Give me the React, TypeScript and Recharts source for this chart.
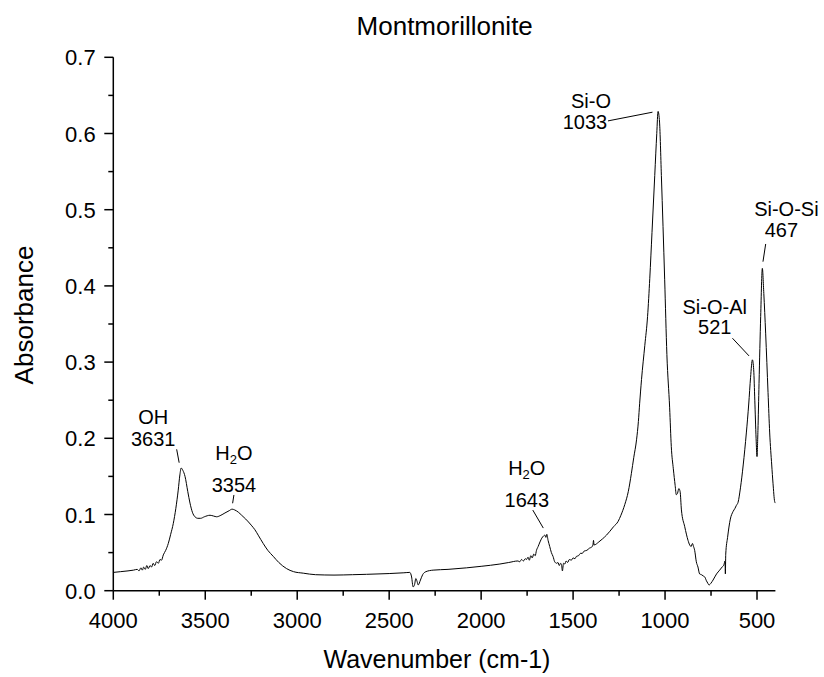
import { LineChart, Line, XAxis, YAxis, ReferenceDot } from 'recharts'

// spectrum, high wavenumber first
const wavenumber = [
  4000, 3960, 3920, 3890, 3870, 3860, 3850, 3842, 3835, 3826, 3818, 3810, 3800, 3792, 3783, 3775,
  3765, 3755, 3746, 3738, 3728, 3715, 3701, 3688, 3674, 3660, 3647, 3638, 3631, 3622, 3610, 3595,
  3583, 3570, 3556, 3540, 3525, 3505, 3474, 3455, 3438, 3415, 3393, 3370, 3354, 3340, 3320, 3302,
  3280, 3250, 3230, 3210, 3185, 3160, 3130, 3100, 3058, 3020, 2967, 2900, 2800, 2700, 2623, 2500,
  2420, 2388, 2378, 2370, 2362, 2355, 2348, 2342, 2330, 2318, 2300, 2261, 2180, 2079, 2000, 1898,
  1850, 1800, 1790, 1780, 1770, 1760, 1753, 1745, 1738, 1730, 1722, 1714, 1706, 1699, 1690, 1680,
  1670, 1660, 1654, 1648, 1643, 1636, 1627, 1618, 1609, 1600, 1590, 1582, 1575, 1568, 1563, 1558,
  1552, 1545, 1538, 1530, 1520, 1510, 1500, 1490, 1482, 1470, 1460, 1450, 1440, 1425, 1410, 1400,
  1392, 1389, 1386, 1360, 1340, 1318, 1300, 1280, 1255, 1240, 1219, 1200, 1183, 1170, 1155, 1145,
  1138, 1128, 1110, 1095, 1083, 1071, 1056, 1045, 1038, 1030, 1020, 1002, 990, 975, 966, 955,
  945, 939, 932, 925, 918, 911, 893, 875, 866, 858, 851, 845, 839, 830, 821, 812,
  802, 790, 784, 775, 768, 761, 750, 739, 720, 703, 690, 680, 674, 672, 670, 660,
  645, 630, 620, 612, 603, 590, 575, 558, 545, 535, 525, 518, 512, 505, 500, 495,
  489, 480, 471, 463, 453, 440, 431, 420, 413, 404, 400,
]
const absorbance = [
  0.024, 0.025, 0.026, 0.027, 0.028, 0.026, 0.03, 0.027, 0.031, 0.028, 0.033, 0.029, 0.033, 0.031, 0.036, 0.033,
  0.038, 0.036, 0.041, 0.04, 0.047, 0.053, 0.062, 0.074, 0.088, 0.108, 0.132, 0.152, 0.161, 0.158, 0.15, 0.13,
  0.115, 0.103, 0.097, 0.095, 0.095, 0.097, 0.099, 0.098, 0.097, 0.099, 0.102, 0.105, 0.107, 0.106, 0.103, 0.099,
  0.094, 0.086, 0.08, 0.072, 0.062, 0.053, 0.045, 0.037, 0.029, 0.025, 0.023, 0.021, 0.0205, 0.021, 0.0215, 0.0225,
  0.0235, 0.024, 0.018, 0.005, 0.008, 0.016, 0.012, 0.0075, 0.014, 0.021, 0.025, 0.027, 0.028, 0.03, 0.032, 0.035,
  0.037, 0.039, 0.038, 0.041, 0.039, 0.042, 0.041, 0.044, 0.04, 0.046, 0.043, 0.048, 0.046, 0.053, 0.058, 0.064,
  0.069, 0.072, 0.073, 0.07, 0.074, 0.066, 0.058, 0.05, 0.045, 0.038, 0.036, 0.037, 0.033, 0.036, 0.034, 0.026,
  0.036, 0.035, 0.039, 0.037, 0.041, 0.04, 0.043, 0.042, 0.045, 0.046, 0.049, 0.049, 0.052, 0.053, 0.056, 0.057,
  0.06, 0.066, 0.06, 0.064, 0.068, 0.073, 0.078, 0.084, 0.091, 0.099, 0.113, 0.13, 0.154, 0.175, 0.198, 0.222,
  0.246, 0.277, 0.322, 0.36, 0.41, 0.47, 0.545, 0.6, 0.629, 0.615, 0.545, 0.408, 0.31, 0.24, 0.189, 0.16,
  0.138, 0.126, 0.128, 0.134, 0.13, 0.106, 0.084, 0.066, 0.06, 0.058, 0.062, 0.058, 0.053, 0.038, 0.031, 0.022,
  0.021, 0.019, 0.018, 0.013, 0.01, 0.0075, 0.01, 0.014, 0.022, 0.027, 0.031, 0.034, 0.039, 0.022, 0.048, 0.07,
  0.094, 0.104, 0.108, 0.112, 0.116, 0.135, 0.165, 0.207, 0.245, 0.28, 0.303, 0.29, 0.25, 0.2, 0.176, 0.21,
  0.272, 0.36, 0.423, 0.39, 0.338, 0.26, 0.207, 0.165, 0.141, 0.117, 0.115,
]

const xTicks = [4000, 3750, 3500, 3250, 3000, 2750, 2500, 2250, 2000, 1750, 1500, 1250, 1000, 750, 500]
const yTicks = [0, 0.05, 0.1, 0.15, 0.2, 0.25, 0.3, 0.35, 0.4, 0.45, 0.5, 0.55, 0.6, 0.65, 0.7]

const peakNames = ['OH', 'H2O', 'H2O', 'Si-O', 'Si-O-Al', 'Si-O-Si']
const peakWavenumbers = [3631, 3354, 1643, 1033, 521, 467]
const peakHeights = [0.161, 0.107, 0.073, 0.629, 0.303, 0.423]

// pixel offsets of the callout text and leader line from each peak
const calloutLayout = [
  { name: [-28, -51], num: [-28, -29], line: [-4.5, -18.7, -2, -5.3] },
  { name: [1.8, -56], num: [1.8, -24], line: [1.8, -14.2, 0.5, -5.9] },
  { name: [-20, -67], num: [-20, -35], line: [-14, -25, -3.5, -7] },
  { name: [-68, -10], num: [-74, 11], line: [-51, 9.5, -6.5, 0.8] },
  { name: [-38.4, -53], num: [-38.4, -33], line: [-20.7, -21.6, -4.1, -3.9] },
  { name: [23.3, -59], num: [18.3, -38.4], line: [2.6, -24.4, -0.1, -6.7] },
]

const FONT = 'Arial, "Liberation Sans", sans-serif'

const data = wavenumber.map((wn, i) => ({ wn, abs: absorbance[i] }))

function XTick({ x, y, payload }: any) {
  const v = payload.value
  const major = v % 500 === 0
  return (
    <g>
      <line x1={x} x2={x} y1={y} y2={y + (major ? 9 : 5)} stroke="#000" strokeWidth={1.5} />
      {major && (
        <text x={x} y={y + 37} textAnchor="middle" fontSize={22} fontFamily={FONT} fill="#000">
          {v}
        </text>
      )}
    </g>
  )
}

function YTick({ x, y, payload }: any) {
  const v = payload.value
  const major = Math.abs(v * 10 - Math.round(v * 10)) < 1e-6
  return (
    <g>
      <line x1={x - (major ? 9 : 5)} x2={x} y1={y} y2={y} stroke="#000" strokeWidth={1.5} />
      {major && (
        <text x={x - 17.6} y={y + 8} textAnchor="end" fontSize={22} fontFamily={FONT} fill="#000">
          {v.toFixed(1)}
        </text>
      )}
    </g>
  )
}

function Name({ name, x, y }: { name: string; x: number; y: number }) {
  if (name === 'H2O') {
    return (
      <text x={x} y={y} textAnchor="middle" dominantBaseline="central" fontSize={20} fontFamily={FONT}>
        <tspan>H</tspan>
        <tspan fontSize={13} dy={6}>2</tspan>
        <tspan dy={-6}>O</tspan>
      </text>
    )
  }
  return (
    <text x={x} y={y} textAnchor="middle" dominantBaseline="central" fontSize={20} fontFamily={FONT}>
      {name}
    </text>
  )
}

function callout(i: number) {
  const lay = calloutLayout[i]
  return (props: any) => {
    const { cx, cy } = props
    const [x1, y1, x2, y2] = lay.line
    return (
      <g>
        <line x1={cx + x1} y1={cy + y1} x2={cx + x2} y2={cy + y2} stroke="#000" strokeWidth={1} />
        <Name name={peakNames[i]} x={cx + lay.name[0]} y={cy + lay.name[1]} />
        <text
          x={cx + lay.num[0]}
          y={cy + lay.num[1]}
          textAnchor="middle"
          dominantBaseline="central"
          fontSize={20}
          fontFamily={FONT}
        >
          {peakWavenumbers[i]}
        </text>
      </g>
    )
  }
}

export default function App() {
  return (
    <div style={{ position: 'absolute', left: 0, top: 0, width: 824, height: 677, background: '#fff' }}>
      <LineChart
        width={824}
        height={677}
        data={data}
        margin={{ top: 57.3, right: 48.6, bottom: 46.3, left: 13.3 }}
      >
        <XAxis
          dataKey="wn"
          type="number"
          domain={[400, 4000]}
          reversed
          ticks={xTicks}
          interval={0}
          tick={<XTick />}
          tickLine={false}
          tickSize={0}
          tickMargin={0}
          height={40}
          axisLine={{ stroke: '#000', strokeWidth: 1.5 }}
        />
        <YAxis
          type="number"
          domain={[0, 0.7]}
          ticks={yTicks}
          interval={0}
          tick={<YTick />}
          tickLine={false}
          tickSize={0}
          tickMargin={0}
          width={100}
          axisLine={{ stroke: '#000', strokeWidth: 1.5 }}
        />
        <Line
          type="monotone"
          dataKey="abs"
          stroke="#000"
          strokeWidth={1}
          dot={false}
          isAnimationActive={false}
        />
        {peakWavenumbers.map((wn, i) => (
          <ReferenceDot key={i} x={wn} y={peakHeights[i]} r={0} shape={callout(i)} />
        ))}
      </LineChart>
      <svg
        width={824}
        height={677}
        style={{ position: 'absolute', left: 0, top: 0, pointerEvents: 'none' }}
        fontFamily={FONT}
      >
        <text x={444.7} y={35} textAnchor="middle" fontSize={26}>
          Montmorillonite
        </text>
        <text x={437} y={667.7} textAnchor="middle" fontSize={25}>
          Wavenumber (cm-1)
        </text>
        <text x={32.5} y={315} textAnchor="middle" fontSize={26} transform="rotate(-90 32.5 315)">
          Absorbance
        </text>
      </svg>
    </div>
  )
}
